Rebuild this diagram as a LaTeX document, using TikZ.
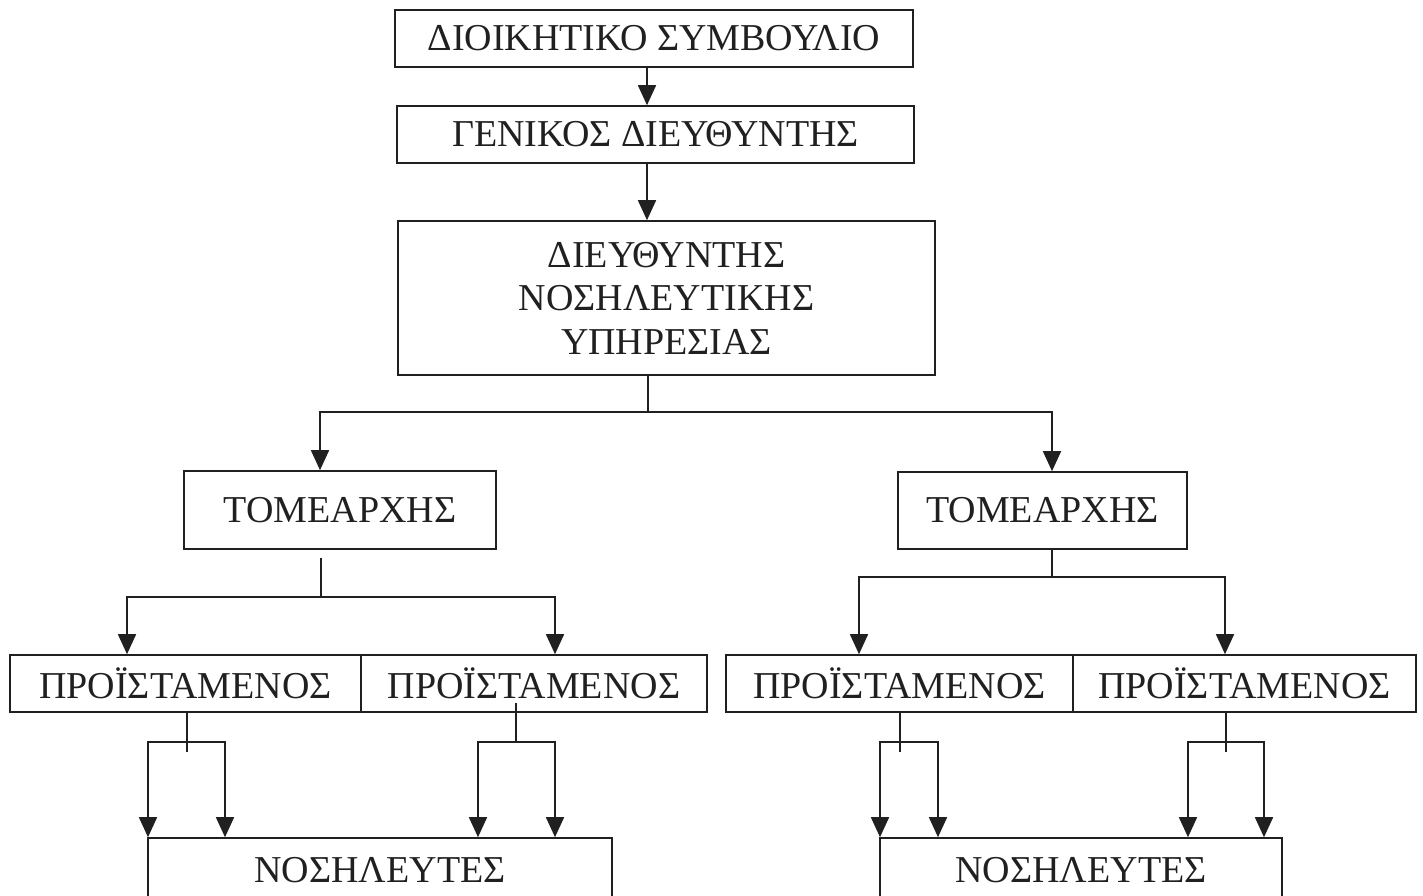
\documentclass[tikz,border=0pt]{standalone}
\usepackage{fontspec}
\setmainfont{Liberation Serif}
\usetikzlibrary{arrows.meta}
\newcommand\boxfont{\fontsize{38}{43.5}\selectfont}
\definecolor{ink}{HTML}{202020}
\begin{document}
\begin{tikzpicture}[x=1pt,y=-1pt,
  box/.style={draw=ink, line width=1.6pt, inner sep=0pt, font=\boxfont, align=center, text=ink},
  ln/.style={draw=ink, line width=1.6pt},
  arr/.style={draw=ink, line width=1.6pt, -{Triangle[length=20pt,width=18pt]}}]
\useasboundingbox (0,0) rectangle (1423,896);
% boxes
\node[box, minimum width=518pt, minimum height=57pt] (b1) at (654,38.5) {ΔΙΟΙΚΗΤΙΚΟ ΣΥΜΒΟΥΛΙΟ};
\node[box, minimum width=517pt, minimum height=57pt] (b2) at (655.5,134.5) {ΓΕΝΙΚΟΣ ΔΙΕΥΘΥΝΤΗΣ};
\node[box, minimum width=537pt, minimum height=154pt] (b3) at (666.5,298) {ΔΙΕΥΘΥΝΤΗΣ\\ΝΟΣΗΛΕΥΤΙΚΗΣ\\ΥΠΗΡΕΣΙΑΣ};
\node[box, minimum width=312pt, minimum height=78pt] (t1) at (340,510) {ΤΟΜΕΑΡΧΗΣ};
\node[box, minimum width=289pt, minimum height=77pt] (t2) at (1042.5,510.5) {ΤΟΜΕΑΡΧΗΣ};
\node[box, minimum width=351pt, minimum height=57pt] (p1) at (185.5,683.5) {ΠΡΟΪΣΤΑΜΕΝΟΣ};
\node[box, minimum width=346pt, minimum height=57pt] (p2) at (534,683.5) {ΠΡΟΪΣΤΑΜΕΝΟΣ};
\node[box, minimum width=347pt, minimum height=57pt] (p3) at (899.5,683.5) {ΠΡΟΪΣΤΑΜΕΝΟΣ};
\node[box, minimum width=343pt, minimum height=57pt] (p4) at (1244.5,683.5) {ΠΡΟΪΣΤΑΜΕΝΟΣ};
\node[box, minimum width=464pt, minimum height=64pt] (n1) at (380,870) {ΝΟΣΗΛΕΥΤΕΣ};
\node[box, minimum width=402pt, minimum height=64pt] (n2) at (1081,870) {ΝΟΣΗΛΕΥΤΕΣ};
% top chain
\coordinate (xa) at (647,0);
\draw[arr] (xa |- b1.south) -- (xa |- b2.north);
\draw[arr] (xa |- b2.south) -- (xa |- b3.north);
% director to sector heads
\coordinate (j3) at (648,412);
\draw[ln] (j3 |- b3.south) -- (j3);
\draw[arr] (j3) -| ([xshift=-20pt]t1.north);
\draw[arr] (j3) -| ([xshift=9.5pt]t2.north);
% sector heads to supervisors
\coordinate (j1top) at (321,558);
\coordinate (j1) at (321,597);
\draw[ln] (j1top) -- (j1);
\draw[arr] (j1) -| ([xshift=-58.5pt]p1.north);
\draw[arr] (j1) -| ([xshift=21pt]p2.north);
\coordinate (j2) at (1052,577);
\draw[ln] (j2 |- t2.south) -- (j2);
\draw[arr] (j2) -| ([xshift=-40.5pt]p3.north);
\draw[arr] (j2) -| ([xshift=-19.5pt]p4.north);
% supervisors to nurses
\coordinate (k1) at (187,742);
\coordinate (k1b) at (187,752);
\draw[ln] (k1 |- p1.south) -- (k1b);
\draw[arr] (k1) -| ([xshift=-232pt]n1.north);
\draw[arr] (k1) -| ([xshift=-155pt]n1.north);
\coordinate (k2) at (516,742);
\coordinate (k2top) at (516,703);
\draw[ln] (k2top) -- (k2);
\draw[arr] (k2) -| ([xshift=98pt]n1.north);
\draw[arr] (k2) -| ([xshift=175pt]n1.north);
\coordinate (k3) at (900,742);
\coordinate (k3b) at (900,752);
\draw[ln] (k3 |- p3.south) -- (k3b);
\draw[arr] (k3) -| ([xshift=-201pt]n2.north);
\draw[arr] (k3) -| ([xshift=-143pt]n2.north);
\coordinate (k4) at (1226,742);
\coordinate (k4b) at (1226,752);
\draw[ln] (k4 |- p4.south) -- (k4b);
\draw[arr] (k4) -| ([xshift=107pt]n2.north);
\draw[arr] (k4) -| ([xshift=183pt]n2.north);
\end{tikzpicture}
\end{document}
